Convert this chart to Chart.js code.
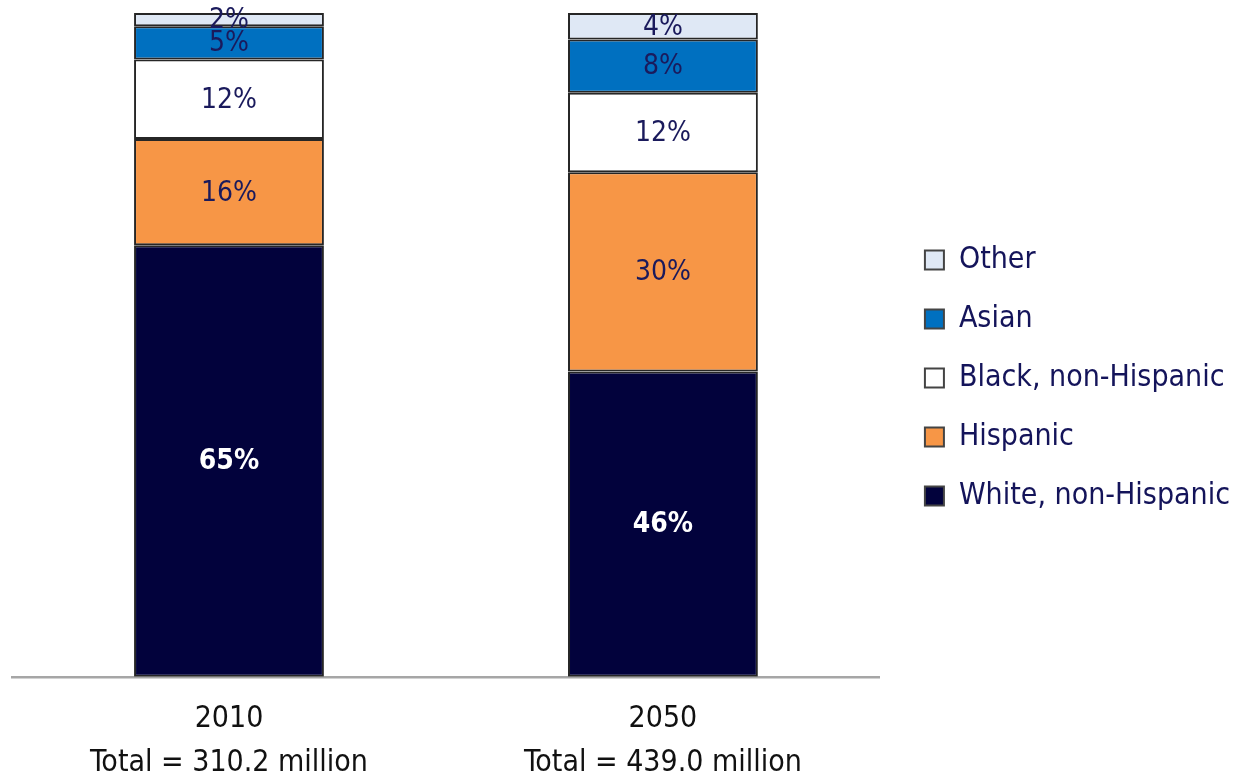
<!DOCTYPE html>
<html><head><meta charset="utf-8">
<script src="https://cdn.jsdelivr.net/npm/chart.js@4.4.0/dist/chart.umd.min.js"></script>
<style>html,body{margin:0;padding:0;background:#fff}#wrap{width:1242px;height:778px}</style>
</head><body><div id="wrap"><canvas id="c" width="1242" height="778"></canvas></div>
<script>
const categories = [["2010","Total = 310.2 million"],["2050","Total = 439.0 million"]];
const seriesNames = ["White, non-Hispanic","Hispanic","Black, non-Hispanic","Asian","Other"];
const white = [65, 46];
const hispanic = [16, 30];
const black = [12, 12];
const asian = [5, 8];
const other = [2, 4];
const colors = ["#02023c","#f79646","#ffffff","#0070c0","#dfe8f5"];
const labelColors = ["#ffffff","#1a1a5c","#1a1a5c","#1a1a5c","#1a1a5c"];
const FONT = "'DejaVu Sans Condensed','Liberation Sans Narrow','Open Sans',sans-serif";

const values = [white, hispanic, black, asian, other];
const datasets = values.map((v,i)=>({
  label: seriesNames[i], data: v, backgroundColor: colors[i],
  borderColor: "#262626", borderWidth: 2, borderSkipped: false,
  barPercentage: 0.875, categoryPercentage: 0.5
}));

const labelPlugin = {
  id: 'segLabels',
  afterDatasetsDraw(chart){
    const ctx = chart.ctx;
    chart.data.datasets.forEach((ds, di)=>{
      const meta = chart.getDatasetMeta(di);
      meta.data.forEach((bar, i)=>{
        const p = bar.getProps(['x','y','base'], true);
        const cy = (p.y + p.base)/2;
        ctx.save();
        ctx.fillStyle = labelColors[di];
        ctx.font = (di===0 ? "bold " : "") + "28px " + FONT;
        ctx.textAlign = "center"; ctx.textBaseline = "middle";
        ctx.fillText(ds.data[i] + "%", p.x, cy + 1);
        ctx.restore();
      });
    });
  }
};

const legendShift = {
  id: 'legendShift',
  afterLayout(chart){
    const lg = chart.legend;
    if (lg) { lg.left += 16; lg.right += 16; lg.top -= 31; lg.bottom -= 31; }
  }
};

new Chart(document.getElementById('c'), {
  type: 'bar',
  data: { labels: categories, datasets },
  options: {
    responsive: false, animation: false,
    layout: { padding: { left: 12, top: 13, right: 18, bottom: -27 } },
    scales: {
      x: { stacked: true,
        grid: { display: false, drawTicks: false },
        border: { display: true, color: "#a6a6a6", width: 2.5 },
        ticks: { color: "#111", font: { family: FONT, size: 30, lineHeight: 1.47 }, padding: 20 }
      },
      y: { stacked: true, min: 0, max: 100, display: false }
    },
    plugins: {
      legend: { position: 'right', reverse: true,
        labels: { color: "#14145a", font: { family: FONT, size: 30 }, boxWidth: 19, boxHeight: 19, padding: 29,
          generateLabels(chart){
            return chart.data.datasets.map((ds,i)=>({text: ds.label, fillStyle: ds.backgroundColor, strokeStyle: "#444", lineWidth: 2, datasetIndex: i, fontColor: "#14145a"}));
          } } },
      tooltip: { enabled: false }
    }
  },
  plugins: [labelPlugin, legendShift]
});
</script></body></html>
